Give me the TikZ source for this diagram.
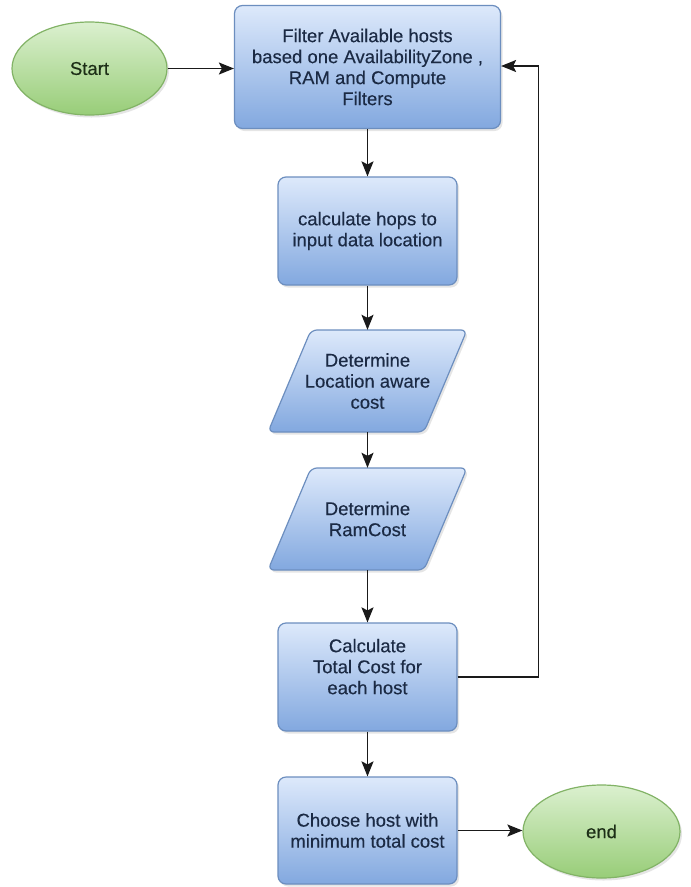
\documentclass[tikz,border=0pt]{standalone}
\usepackage{fontspec}
\setmainfont{Liberation Sans}
\newfontfamily\diagfont{Liberation Sans}[FakeBold=0.3]
\usetikzlibrary{arrows.meta,shapes.geometric,shadows,calc}
\definecolor{bluetop}{HTML}{DDE9FB}
\definecolor{bluebot}{HTML}{82A8DF}
\definecolor{blueline}{HTML}{6C8EBF}
\definecolor{greentop}{HTML}{DBF0CF}
\definecolor{greenbot}{HTML}{98CD78}
\definecolor{greenline}{HTML}{82B366}
\definecolor{bluetext}{HTML}{1B2A44}
\definecolor{greentext}{HTML}{1C2E16}
\definecolor{linecol}{HTML}{1A1A1A}
\begin{document}
\begin{tikzpicture}[x=1pt,y=-1pt,
  labelfont/.style={font=\diagfont\fontsize{18.5}{21}\selectfont},
  softshadow/.style={drop shadow={opacity=0.2,shadow xshift=2pt,shadow yshift=-2.5pt}},
  procbox/.style={rectangle, rounded corners=8pt, draw=blueline, line width=1.2pt,
    top color=bluetop, bottom color=bluebot, text=bluetext, align=center,
    labelfont, inner sep=0pt, softshadow},
  termnode/.style={ellipse, draw=greenline, line width=1.2pt,
    top color=greentop, bottom color=greenbot, text=greentext,
    labelfont, inner sep=0pt, minimum width=155pt, minimum height=93pt, softshadow},
  parashape/.style={rounded corners=6pt, draw=blueline, line width=1.2pt,
    top color=bluetop, bottom color=bluebot, softshadow},
  paratext/.style={rectangle, inner sep=0pt, text=bluetext, align=center, labelfont,
    minimum width=157pt, minimum height=102pt},
  flow/.style={draw=linecol, line width=1.5pt, -{Stealth[length=15pt,width=12pt,inset=3pt]}}
]
\useasboundingbox[fill=white] (0,0) rectangle (691,887);

% terminals and boxes
\node[termnode] (start) at (89.5,68.5) {Start};
\node[procbox, minimum width=266pt, minimum height=123pt] (f1) at (367.5,67)
  {Filter Available hosts\\based one AvailabilityZone ,\\RAM and Compute\\Filters};
\node[procbox, minimum width=179pt, minimum height=108pt] (hops) at (367.5,231)
  {calculate hops to\\input data location};

% parallelograms
\coordinate (p1c) at (367.5,381);
\path[parashape] ($(p1c)+(-56.5,-51)$) -- ($(p1c)+(99.5,-51)$) -- ($(p1c)+(56.5,51)$) -- ($(p1c)+(-99.5,51)$) -- cycle;
\node[paratext] (p1) at (p1c) {Determine\\Location aware\\cost};

\coordinate (p2c) at (367.5,519);
\path[parashape] ($(p2c)+(-56.5,-51)$) -- ($(p2c)+(99.5,-51)$) -- ($(p2c)+(56.5,51)$) -- ($(p2c)+(-99.5,51)$) -- cycle;
\node[paratext] (p2) at (p2c) {Determine\\RamCost};

\node[procbox, minimum width=179pt, minimum height=108pt] (calc) at (367.5,677)
  {Calculate\\Total Cost for\\each host\\\mbox{}};
\node[procbox, minimum width=179pt, minimum height=107pt] (choose) at (367.5,830.5)
  {Choose host with\\minimum total cost};
\node[termnode, minimum width=157pt] (end) at (601.5,831.5) {end};

% connectors
\draw[flow] (start.east) -- (start.east -| f1.west);
\draw[flow] (f1.south) -- (hops.north);
\draw[flow] (hops.south) -- (p1.north);
\draw[flow] (p1.south) -- (p2.north);
\draw[flow] (p2.south) -- (calc.north);
\draw[flow] (calc.south) -- (choose.north);
\draw[flow] (choose.east) -- (choose.east -| end.west);
\draw[flow] (calc.east) -- ++(81,0) |- ([yshift=1pt]f1.east);
\end{tikzpicture}
\end{document}
